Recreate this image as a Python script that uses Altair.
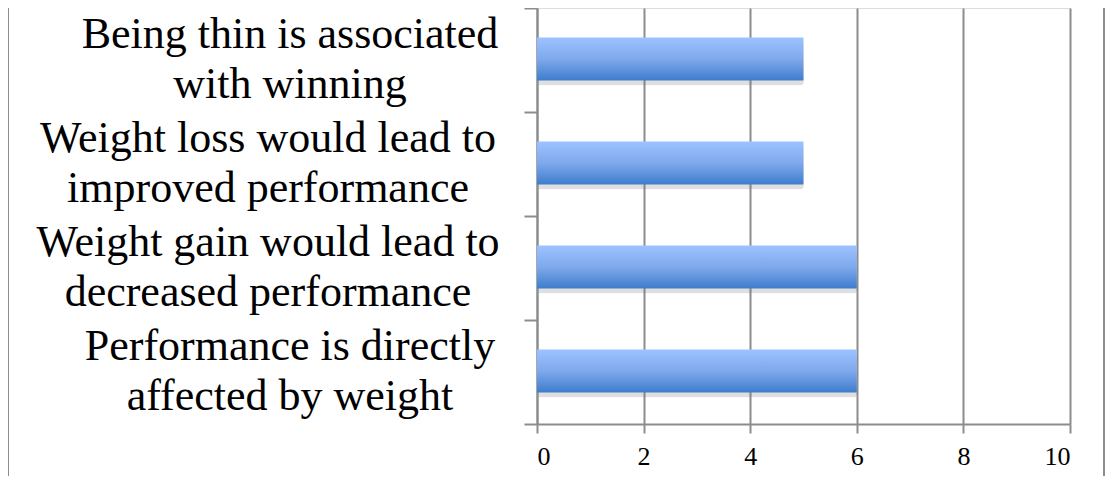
import altair as alt
import pandas as pd

categories = [
    "Being thin is associated|with winning",
    "Weight loss would lead to|improved performance",
    "Weight gain would lead to|decreased performance",
    "Performance is directly|affected by weight",
]
values = [5, 5, 6, 6]
x_ticks = [0, 2, 4, 6, 8, 10]

df = pd.DataFrame({"item": categories, "count": values})

W, H = 533, 416
GRAY = "#8c8c8c"
SERIF = "Liberation Serif"

y_enc = alt.Y(
    "item:N",
    sort=categories,
    title=None,
    scale=alt.Scale(paddingInner=0, paddingOuter=0),
    axis=alt.Axis(
        labels=False,
        tickBand="extent",
        tickSize=13,
        tickColor=GRAY,
        tickWidth=2,
        domainColor=GRAY,
        domainWidth=2,
        grid=False,
    ),
)

x_enc = alt.X(
    "count:Q",
    title=None,
    scale=alt.Scale(domain=[0, 10], nice=False),
    axis=alt.Axis(
        values=x_ticks,
        labelFont=SERIF,
        labelFontSize=26,
        labelColor="black",
        labelPadding=10,
        tickSize=9,
        tickColor=GRAY,
        tickWidth=2,
        domainColor=GRAY,
        domainWidth=2,
        grid=True,
        gridColor=GRAY,
        gridWidth=2,
    ),
)

gradient = alt.Gradient(
    gradient="linear",
    stops=[
        alt.GradientStop(color="#9cc2ff", offset=0),
        alt.GradientStop(color="#7fa9ec", offset=0.5),
        alt.GradientStop(color="#3e7dcd", offset=1),
    ],
    x1=0, x2=0, y1=0, y2=1,
)

base = alt.Chart(df)

shadow = base.mark_bar(
    size=43, color="#6f6f6f", opacity=0.22, yOffset=4, xOffset=2, cornerRadius=3
).encode(x=x_enc, y=y_enc)

bars = base.mark_bar(size=43, color=gradient, yOffset=-1).encode(x=x_enc, y=y_enc)


def label_layer(test, xpos):
    return (
        base.transform_filter(test)
        .transform_calculate(lines="split(datum.item, '|')")
        .mark_text(
            font=SERIF,
            fontSize=44,
            lineHeight=50,
            color="black",
            align="center",
            baseline="middle",
            dy=-25,
        )
        .encode(y=y_enc, x=alt.value(xpos), text="lines:N")
    )


labels_a = label_layer("indexof(datum.item, 'Weight') != 0", -247)
labels_b = label_layer("indexof(datum.item, 'Weight') == 0", -269)

frame_df = pd.DataFrame({"side": ["left", "right"]})
frame_left = alt.Chart(frame_df).mark_rule(color=GRAY, strokeWidth=2).encode(
    x=alt.value(-529), y=alt.value(0), y2=alt.value(468)
)
frame_right = alt.Chart(frame_df).mark_rule(color=GRAY, strokeWidth=2).encode(
    x=alt.value(567), y=alt.value(0), y2=alt.value(468)
)

chart = (
    alt.layer(shadow, bars, labels_a, labels_b, frame_left, frame_right)
    .properties(
        width=W,
        height=H,
        autosize=alt.AutoSizeParams(type="none"),
        padding={"left": 529, "top": 0, "right": 35, "bottom": 52},
    )
    .configure_view(stroke=None)
    .configure(background="white")
)

chart.save("out.html", embed_options={"renderer": "svg", "actions": False})
